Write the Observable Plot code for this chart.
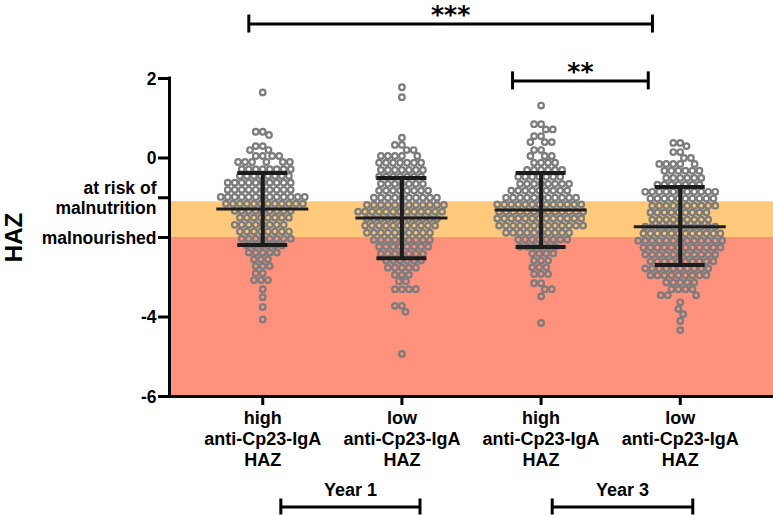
<!DOCTYPE html>
<html><head><meta charset="utf-8">
<script src="https://cdn.jsdelivr.net/npm/d3@7"></script>
<script src="https://cdn.jsdelivr.net/npm/@observablehq/plot@0.6"></script>
<style>
body{margin:0;background:#fff}
#chart{position:relative;width:773px;height:515px}
#chart svg{position:absolute;left:0;top:0}
</style>
</head><body><div id="chart"></div>
<script>
// ---- data ----
const groups = ["Y1-high", "Y1-low", "Y3-high", "Y3-low"];
const groupLabels = ["high\nanti-Cp23-IgA\nHAZ", "low\nanti-Cp23-IgA\nHAZ", "high\nanti-Cp23-IgA\nHAZ", "low\nanti-Cp23-IgA\nHAZ"];

const y1High = [
  1.65,
  0.66, 0.66, 0.58,
  0.3, 0.3, 0.2, 0.2,
  0.05, 0.05, 0.05, 0.05,
  -0.1, -0.1, -0.1, -0.1, -0.1, -0.1,
  -0.28, -0.28, -0.28, -0.28, -0.28, -0.28, -0.28, -0.28,
  -0.45, -0.45, -0.45, -0.45, -0.45, -0.45, -0.45, -0.45,
  -0.62, -0.62, -0.62, -0.62, -0.62, -0.62, -0.62, -0.62, -0.62, -0.62,
  -0.8, -0.8, -0.8, -0.8, -0.8, -0.8, -0.8, -0.8, -0.8, -0.8,
  -0.98, -0.98, -0.98, -0.98, -0.98, -0.98, -0.98, -0.98, -0.98, -0.98, -0.98, -0.98, -0.98,
  -1.15, -1.15, -1.15, -1.15, -1.15, -1.15, -1.15, -1.15, -1.15, -1.15, -1.15, -1.15,
  -1.33, -1.33, -1.33, -1.33, -1.33, -1.33, -1.33, -1.33, -1.33,
  -1.5, -1.5, -1.5, -1.5, -1.5, -1.5, -1.5, -1.5,
  -1.68, -1.68, -1.68, -1.68, -1.68, -1.68, -1.68, -1.68,
  -1.85, -1.85, -1.85, -1.85, -1.85, -1.85, -1.85, -1.85,
  -2.03, -2.03, -2.03, -2.03, -2.03, -2.03, -2.03, -2.03,
  -2.2, -2.2, -2.2, -2.2, -2.2, -2.2,
  -2.38, -2.38, -2.38, -2.38, -2.38,
  -2.55, -2.55, -2.55,
  -2.72, -2.72, -2.72,
  -2.9, -2.9,
  -3.07, -3.07, -3.07,
  -3.3, -3.5, -3.75, -4.06
];
const y1Low = [
  1.78, 1.53, 0.51,
  0.33, 0.33, 0.2, 0.2,
  0.05, 0.05, 0.05, 0.05, 0.05,
  -0.12, -0.12, -0.12, -0.12, -0.12, -0.12, -0.12,
  -0.3, -0.3, -0.3, -0.3, -0.3, -0.3, -0.3,
  -0.47, -0.47, -0.47, -0.47, -0.47, -0.47, -0.47,
  -0.65, -0.65, -0.65, -0.65, -0.65, -0.65, -0.65,
  -0.82, -0.82, -0.82, -0.82, -0.82, -0.82, -0.82, -0.82,
  -1.0, -1.0, -1.0, -1.0, -1.0, -1.0, -1.0, -1.0, -1.0, -1.0,
  -1.18, -1.18, -1.18, -1.18, -1.18, -1.18, -1.18, -1.18, -1.18, -1.18, -1.18, -1.18,
  -1.35, -1.35, -1.35, -1.35, -1.35, -1.35, -1.35, -1.35, -1.35, -1.35, -1.35, -1.35, -1.35,
  -1.53, -1.53, -1.53, -1.53, -1.53, -1.53, -1.53, -1.53, -1.53, -1.53, -1.53,
  -1.7, -1.7, -1.7, -1.7, -1.7, -1.7, -1.7, -1.7, -1.7, -1.7, -1.7,
  -1.88, -1.88, -1.88, -1.88, -1.88, -1.88, -1.88, -1.88, -1.88, -1.88,
  -2.06, -2.06, -2.06, -2.06, -2.06, -2.06, -2.06, -2.06, -2.06,
  -2.23, -2.23, -2.23, -2.23, -2.23, -2.23, -2.23, -2.23,
  -2.41, -2.41, -2.41, -2.41, -2.41, -2.41, -2.41,
  -2.58, -2.58, -2.58, -2.58, -2.58, -2.58,
  -2.76, -2.76, -2.76, -2.76, -2.76,
  -2.94, -2.94, -2.94,
  -3.1, -3.1,
  -3.3, -3.3, -3.3, -3.3,
  -3.72, -3.72, -3.87,
  -4.93
];
const y3High = [
  1.32,
  0.85, 0.85, 0.72, 0.72,
  0.55, 0.55, 0.4, 0.4, 0.4,
  0.2, 0.2, 0.05, 0.05, 0.05,
  -0.12, -0.12, -0.12, -0.12,
  -0.3, -0.3, -0.3, -0.3, -0.3, -0.3,
  -0.47, -0.47, -0.47, -0.47, -0.47, -0.47, -0.47,
  -0.65, -0.65, -0.65, -0.65, -0.65, -0.65, -0.65, -0.65,
  -0.82, -0.82, -0.82, -0.82, -0.82, -0.82, -0.82, -0.82, -0.82,
  -1.0, -1.0, -1.0, -1.0, -1.0, -1.0, -1.0, -1.0, -1.0, -1.0, -1.0,
  -1.17, -1.17, -1.17, -1.17, -1.17, -1.17, -1.17, -1.17, -1.17, -1.17, -1.17, -1.17, -1.17,
  -1.35, -1.35, -1.35, -1.35, -1.35, -1.35, -1.35, -1.35, -1.35, -1.35, -1.35, -1.35, -1.35,
  -1.52, -1.52, -1.52, -1.52, -1.52, -1.52, -1.52, -1.52, -1.52, -1.52, -1.52, -1.52, -1.52,
  -1.7, -1.7, -1.7, -1.7, -1.7, -1.7, -1.7, -1.7, -1.7, -1.7, -1.7, -1.7, -1.7,
  -1.88, -1.88, -1.88, -1.88, -1.88, -1.88, -1.88, -1.88, -1.88, -1.88,
  -2.05, -2.05, -2.05, -2.05, -2.05, -2.05, -2.05, -2.05,
  -2.23, -2.23, -2.23, -2.23, -2.23, -2.23,
  -2.4, -2.4, -2.4, -2.4,
  -2.58, -2.58, -2.58,
  -2.75, -2.75, -2.75,
  -2.92, -2.92, -2.92,
  -3.15, -3.15, -3.3, -3.3, -3.48,
  -4.15
];
const y3Low = [
  0.38, 0.38, 0.3,
  0.15, 0.15, 0.0, 0.0,
  -0.15, -0.15, -0.15, -0.15, -0.15,
  -0.32, -0.32, -0.32, -0.32, -0.32, -0.32,
  -0.5, -0.5, -0.5, -0.5, -0.5, -0.5,
  -0.67, -0.67, -0.67, -0.67, -0.67, -0.67, -0.67,
  -0.85, -0.85, -0.85, -0.85, -0.85, -0.85, -0.85, -0.85, -0.85, -0.85, -0.85,
  -1.02, -1.02, -1.02, -1.02, -1.02, -1.02, -1.02, -1.02, -1.02, -1.02,
  -1.2, -1.2, -1.2, -1.2, -1.2, -1.2, -1.2, -1.2, -1.2, -1.2,
  -1.37, -1.37, -1.37, -1.37, -1.37, -1.37, -1.37, -1.37, -1.37,
  -1.55, -1.55, -1.55, -1.55, -1.55, -1.55, -1.55, -1.55, -1.55,
  -1.73, -1.73, -1.73, -1.73, -1.73, -1.73, -1.73, -1.73, -1.73, -1.73, -1.73,
  -1.9, -1.9, -1.9, -1.9, -1.9, -1.9, -1.9, -1.9, -1.9, -1.9, -1.9, -1.9,
  -2.08, -2.08, -2.08, -2.08, -2.08, -2.08, -2.08, -2.08, -2.08, -2.08, -2.08, -2.08, -2.08,
  -2.25, -2.25, -2.25, -2.25, -2.25, -2.25, -2.25, -2.25, -2.25, -2.25, -2.25, -2.25,
  -2.43, -2.43, -2.43, -2.43, -2.43, -2.43, -2.43, -2.43, -2.43, -2.43, -2.43,
  -2.6, -2.6, -2.6, -2.6, -2.6, -2.6, -2.6, -2.6, -2.6, -2.6,
  -2.78, -2.78, -2.78, -2.78, -2.78, -2.78, -2.78, -2.78, -2.78, -2.78,
  -2.95, -2.95, -2.95, -2.95, -2.95, -2.95, -2.95, -2.95, -2.95,
  -3.13, -3.13, -3.13, -3.13, -3.13,
  -3.3, -3.3, -3.3, -3.3,
  -3.45, -3.45, -3.45,
  -3.63, -3.8, -3.93, -4.1, -4.33
];

const means   = [-1.28, -1.51, -1.31, -1.73];
const sdUpper = [-0.38, -0.50, -0.38, -0.73];
const sdLower = [-2.19, -2.52, -2.24, -2.69];

const yTicks      = [2, 0, -1, -2, -4, -6];
const yTickLabels = ["2", "0", "at risk of\nmalnutrition", "malnourished", "-4", "-6"];

const bandNames  = ["at risk", "malnourished"];
const bandTop    = [-1.1, -2];
const bandBottom = [-2, -6];
const bandColors = ["#ffc97b", "#ff917d"];

// significance brackets (x in group-index units)
const sigFrom   = [-0.10, 1.795];
const sigTo     = [2.80, 2.77];
const sigY      = [3.37, 1.94];
const sigLabels = ["***", "**"];

// year brackets
const yearFrom   = [0.13, 2.08];
const yearTo     = [1.13, 3.09];
const yearY      = [-8.78, -8.78];
const yearLabels = ["Year 1", "Year 3"];

// ---- tables ----
const groupValues = [y1High, y1Low, y3High, y3Low];
const points = groups.flatMap((g, i) => groupValues[i].map(v => ({g, v})));
const stats = groups.map((g, i) => ({g, mean: means[i], hi: sdUpper[i], lo: sdLower[i]}));
const bands = bandNames.map((n, i) => ({n, top: bandTop[i], bottom: bandBottom[i], color: bandColors[i]}));
const sig = sigLabels.map((label, i) => ({x1: sigFrom[i], x2: sigTo[i], y: sigY[i], label}));
const years = yearLabels.map((label, i) => ({x1: yearFrom[i], x2: yearTo[i], y: yearY[i], label}));

// ---- layout ----
const W = 773, H = 515;
const M = {marginLeft: 169, marginRight: 0, marginTop: 78, marginBottom: 119};
const pInner = 0.1, pOuter = 0.22;
const pad = pOuter + (1 - pInner) / 2;
const step = (W - M.marginLeft - M.marginRight) / (groups.length - pInner + 2 * pOuter);
const bw = step * (1 - pInner);
const meanInset = bw / 2 - 46;
const capInset = bw / 2 - 25;
const font = "'Liberation Sans', Arial, Helvetica, sans-serif";
const ink = "#000";

const plotA = Plot.plot({
  width: W, height: H, ...M,
  style: {fontFamily: font, background: "transparent", color: ink, overflow: "visible"},
  x: {domain: [-pad, groups.length - 1 + pad]},
  y: {domain: [-6, 2]},
  marks: [
    Plot.rect(bands, {y1: "top", y2: "bottom", fill: "color"}),
    Plot.ruleY([-6], {stroke: ink, strokeWidth: 3}),
    Plot.ruleX([-pad], {y1: -6, y2: 2, stroke: ink, strokeWidth: 3, strokeLinecap: "square"}),
    Plot.axisY(yTicks, {
      tickFormat: d => yTickLabels[yTicks.indexOf(d)],
      tickSize: 11, tickPadding: 2, strokeWidth: 3, stroke: ink,
      fontSize: 17.5, fontWeight: "bold", lineHeight: 1.15, label: null, fill: ink
    }),
    Plot.axisX(groups.map((g, i) => i), {
      tickFormat: i => groupLabels[i],
      tickSize: 9, tickPadding: 3, strokeWidth: 3, stroke: ink,
      fontSize: 18, fontWeight: "bold", lineHeight: 1.18, label: null, fill: ink
    }),
    Plot.text(["HAZ"], {frameAnchor: "left", textAnchor: "middle", rotate: -90, dx: -148, fontSize: 24, fontWeight: "bold", lineAnchor: "bottom", fill: ink}),
    // significance brackets
    Plot.ruleY(sig, {x1: "x1", x2: "x2", y: "y", stroke: ink, strokeWidth: 3}),
    Plot.ruleX(sig, {x: "x1", y1: "y", y2: "y", insetTop: -9, insetBottom: -9, stroke: ink, strokeWidth: 3}),
    Plot.ruleX(sig, {x: "x2", y1: "y", y2: "y", insetTop: -9, insetBottom: -9, stroke: ink, strokeWidth: 3}),
    Plot.text(sig, {x: d => (d.x1 + d.x2) / 2, y: "y", text: "label", dy: -1, lineAnchor: "bottom", fontSize: 25, fontWeight: "bold", fontFamily: "'DejaVu Sans', sans-serif", fill: ink}),
    // year brackets
    Plot.ruleY(years, {x1: "x1", x2: "x2", y: "y", stroke: ink, strokeWidth: 3}),
    Plot.ruleX(years, {x: "x1", y1: "y", y2: "y", insetTop: -8, insetBottom: -8, stroke: ink, strokeWidth: 3}),
    Plot.ruleX(years, {x: "x2", y1: "y", y2: "y", insetTop: -8, insetBottom: -8, stroke: ink, strokeWidth: 3}),
    Plot.text(years, {x: d => (d.x1 + d.x2) / 2, y: "y", text: "label", dy: -11, lineAnchor: "bottom", fontSize: 18, fontWeight: "bold", fill: ink})
  ]
});

const plotB = Plot.plot({
  width: W, height: H, ...M,
  style: {background: "transparent", overflow: "visible"},
  fx: {domain: groups, paddingInner: pInner, paddingOuter: pOuter, round: false, axis: null, label: null},
  y: {domain: [-6, 2], axis: null},
  marks: [
    Plot.dot(points, Plot.dodgeX({anchor: "middle", padding: 1.4},
      {fx: "g", y: "v", r: 2.8, stroke: "#7c7c7c", strokeWidth: 2.2, fill: "none"})),
    Plot.ruleX(stats, {fx: "g", x: null, y1: "lo", y2: "hi", stroke: "#1c1c1c", strokeWidth: 4}),
    Plot.ruleY(stats, {fx: "g", y: "mean", insetLeft: meanInset, insetRight: meanInset, stroke: "#1c1c1c", strokeWidth: 3}),
    Plot.ruleY(stats, {fx: "g", y: "hi", insetLeft: capInset, insetRight: capInset, stroke: "#1c1c1c", strokeWidth: 4}),
    Plot.ruleY(stats, {fx: "g", y: "lo", insetLeft: capInset, insetRight: capInset, stroke: "#1c1c1c", strokeWidth: 4})
  ]
});

const host = document.getElementById("chart");
host.appendChild(plotA);
host.appendChild(plotB);
</script></body></html>
